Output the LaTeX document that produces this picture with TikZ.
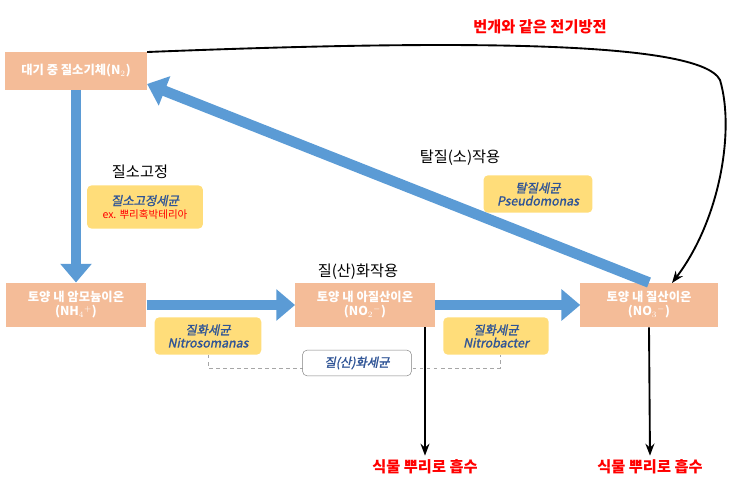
\documentclass[tikz,border=0pt]{standalone}
\usepackage{fontspec}
\setmainfont{Noto Sans CJK KR}
\newfontfamily\slfont{Noto Sans CJK KR}[FakeSlant=0.2, FakeBold=1.5]
\usetikzlibrary{arrows.meta, positioning}

\begin{document}
\begin{tikzpicture}[x=0.03cm, y=-0.03cm]
\tikzstyle{every node}=[font=\fontsize{10.5}{12}\selectfont]
\tikzstyle{pool}=[fill={rgb,255:red,244;green,188;blue,152}, text=white, font=\fontsize{10.5}{12}\bfseries, align=center, minimum height=38pt, inner sep=2pt]
\tikzstyle{germ}=[fill={rgb,255:red,255;green,221;blue,122}, rounded corners=4pt, align=center, text={rgb,255:red,47;green,84;blue,150}, font=\fontsize{10.5}{12}\slfont, minimum height=32pt, inner sep=2pt]
\tikzstyle{flow}=[draw={rgb,255:red,91;green,155;blue,213}, line width=9pt, -{Triangle[length=16pt, width=26pt]}]
\tikzstyle{take}=[draw, line width=1.6pt, ->, >=Stealth]
\useasboundingbox (0,0) rectangle (743,483);

\node[pool, minimum width=121pt, minimum height=32pt] at (76,71) (air) {대기 중 질소기체(N$_2$)};
\node[pool, minimum width=120pt] at (76,305) (nh) {토양 내 암모늄이온\\(NH$_4{}^{+}$)};
\node[pool, minimum width=119pt] at (365,305) (no2) {토양 내 아질산이온\\(NO$_2{}^{-}$)};
\node[pool, minimum width=117pt] at (649,305) (no3) {토양 내 질산이온\\(NO$_3{}^{-}$)};

\node[germ, minimum width=99pt, minimum height=37pt] at (145,207) (fixer) {질소고정세균\\[-1pt]{\fontsize{9}{10}\normalfont\color{red} ex. 뿌리혹박테리아}};
\node[germ, minimum width=93pt] at (538,194) (denit) {탈질세균\\[-1pt]Pseudomonas};
\node[germ, minimum width=91pt] at (208,336) (somo) {질화세균\\[-1pt]Nitrosomanas};
\node[germ, minimum width=90pt] at (496,336) (bact) {질화세균\\[-1pt]Nitrobacter};

\coordinate (dl) at (208,368);
\coordinate (dr) at (500,368);
\draw[gray!70, dashed, thick] (somo.south) -- (dl) -- (dr) -- (bact.south -| dr);
\node[draw=gray, fill=white, rounded corners=4pt, minimum width=93pt, minimum height=22pt, text={rgb,255:red,47;green,84;blue,150}, font=\fontsize{10.5}{12}\slfont] at (357,363) (all) {질(산)화세균};

\node[font=\fontsize{13}{15}\selectfont] at (140,172) (fixtext) {질소고정};
\node[font=\fontsize{13}{15}\selectfont] at (460,158) (dentext) {탈질(소)작용};
\node[font=\fontsize{13}{15}\selectfont] at (358,272) (nittext) {질(산)화작용};
\node[text=red, font=\fontsize{13}{15}\bfseries] at (540,27) (light) {번개와 같은 전기방전};
\node[text=red, font=\fontsize{13}{15}\bfseries] at (425,467) (plantA) {식물 뿌리로 흡수};
\node[text=red, font=\fontsize{13}{15}\bfseries] at (650,467) (plantB) {식물 뿌리로 흡수};

\draw[flow] (air.south) -- (nh.north);
\draw[flow] (nh.east) -- (no2.west);
\draw[flow] (no2.east) -- (no3.west);
\draw[flow] (no3.north) -- (air.east |- 0,84);

\draw[take] (no2.south -| 425,0) -- (plantA.north);
\draw[take] (no3.south) -- (plantB.north);
\draw[take] (air.north east) ++(0,0) .. controls (450,40) and (700,40) .. (720,80)
  .. controls (735,130) and (720,220) .. (672,283);
\end{tikzpicture}
\end{document}
